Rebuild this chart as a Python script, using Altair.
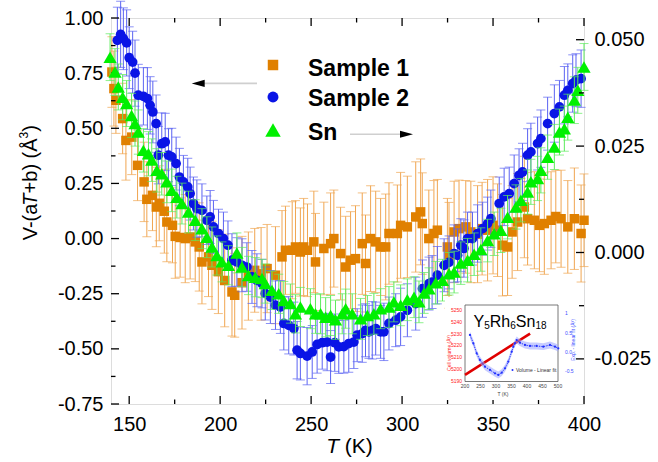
import altair as alt
import pandas as pd

# ---------------- data ----------------
# Sample 1 (orange squares), left axis
T1 = [140.5, 141.6, 142.7, 146.4, 148.2, 151.4, 154.6, 158.2, 159.7, 162.8,
      164.9, 166.5, 169.3, 170.7, 173.8, 175.3, 178.0, 180.8, 183.5, 186.3,
      188.5, 190.0, 193.6, 195.5, 199.0, 202.5, 206.5, 208.0, 212.0, 215.5,
      219.0, 222.5, 225.8, 230.4, 234.0, 235.9, 239.6, 241.4, 244.1, 245.9,
      248.0, 251.5, 252.4, 257.0, 260.7, 262.5, 266.2, 269.0, 271.7, 274.4,
      278.1, 279.9, 282.7, 285.5, 288.2, 291.0, 292.8, 297.4, 299.2, 302.9,
      307.5, 310.2, 311.1, 314.7, 317.5, 319.4, 324.9, 325.8, 328.6, 331.3,
      335.0, 337.8, 341.5, 344.0, 347.0, 350.0, 352.5, 355.2, 358.0, 360.5,
      363.5, 367.2, 369.0, 372.7, 375.5, 378.2, 381.9, 384.5, 387.4, 391.1,
      394.7, 398.4, 400.0]
V1 = [0.755, 0.680, 0.627, 0.544, 0.445, 0.460, 0.332, 0.257, 0.178, 0.196,
      0.143, 0.160, 0.124, 0.075, 0.060, 0.010, 0.005, 0.000, 0.007, -0.015,
      -0.038, -0.106, -0.083, -0.121, -0.150, -0.190, -0.242, -0.257, -0.200, -0.170,
      -0.144, -0.160, -0.136, -0.166, -0.083, -0.053, -0.053, -0.038, -0.061, -0.038,
      -0.053, -0.015, -0.106, -0.045, -0.023, 0.000, -0.068, -0.129, -0.098, -0.091,
      -0.023, -0.113, 0.000, -0.015, -0.038, -0.038, 0.023, 0.023, 0.060, 0.053,
      0.098, 0.121, 0.068, 0.000, 0.023, 0.038, -0.038, -0.076, 0.030, 0.045,
      0.053, 0.030, 0.020, 0.045, 0.038, 0.060, 0.038, -0.030, -0.038, 0.030,
      0.075, 0.143, 0.090, 0.083, 0.060, 0.068, 0.083, 0.100, 0.090, 0.053,
      0.090, 0.023, 0.083]
E1 = [0.16, 0.17, 0.15, 0.16, 0.18, 0.17, 0.16, 0.18, 0.17, 0.16,
      0.18, 0.17, 0.19, 0.18, 0.17, 0.19, 0.18, 0.20, 0.19, 0.18,
      0.20, 0.19, 0.18, 0.20, 0.19, 0.21, 0.20, 0.19, 0.21, 0.20,
      0.19, 0.21, 0.20, 0.22, 0.21, 0.20, 0.22, 0.21, 0.20, 0.22,
      0.21, 0.23, 0.22, 0.21, 0.23, 0.22, 0.21, 0.23, 0.22, 0.24,
      0.23, 0.22, 0.24, 0.23, 0.22, 0.24, 0.23, 0.22, 0.24, 0.23,
      0.25, 0.24, 0.23, 0.22, 0.24, 0.23, 0.22, 0.24, 0.23, 0.22,
      0.21, 0.23, 0.22, 0.21, 0.23, 0.22, 0.21, 0.23, 0.22, 0.21,
      0.22, 0.23, 0.21, 0.22, 0.21, 0.23, 0.22, 0.21, 0.22, 0.21,
      0.23, 0.22, 0.21]

# Sample 2 (blue circles), left axis
T2 = [143.5, 145.3, 146.8, 148.6, 150.0, 151.9, 153.2, 155.0, 157.8, 160.0,
      161.5, 163.0, 164.8, 166.0, 167.9, 169.8, 171.6, 173.4, 175.8, 177.6,
      179.8, 182.2, 183.5, 185.3, 187.2, 190.0, 192.7, 194.5, 196.3, 199.1,
      201.8, 204.3, 206.5, 209.2, 212.0, 214.7, 217.5, 220.2, 223.0, 224.8,
      227.6, 230.4, 233.1, 235.0, 237.7, 240.5, 242.3, 244.1, 247.8, 250.6,
      253.3, 256.1, 258.8, 260.7, 263.0, 265.2, 268.0, 270.7, 273.5, 275.3,
      278.1, 279.9, 281.8, 283.6, 285.5, 288.2, 290.0, 292.8, 296.5, 299.2,
      302.9, 307.5, 311.2, 314.8, 316.5, 319.4, 323.1, 325.8, 328.6, 330.5,
      332.3, 334.0, 336.0, 338.7, 341.5, 344.3, 347.0, 348.8, 353.4, 356.1,
      358.9, 361.6, 364.3, 366.2, 369.0, 370.8, 374.5, 376.3, 380.0, 383.7,
      386.5, 389.2, 391.1, 393.8, 395.6, 398.4]
V2 = [0.899, 0.926, 0.906, 0.887, 0.820, 0.800, 0.750, 0.650, 0.645, 0.635,
      0.604, 0.574, 0.521, 0.378, 0.430, 0.438, 0.378, 0.370, 0.340, 0.279,
      0.257, 0.234, 0.204, 0.159, 0.136, 0.128, 0.083, 0.098, 0.053, 0.023,
      0.000, -0.030, -0.098, -0.106, -0.121, -0.129, -0.174, -0.189, -0.204, -0.249,
      -0.265, -0.302, -0.310, -0.385, -0.393, -0.408, -0.506, -0.521, -0.533, -0.514,
      -0.480, -0.472, -0.469, -0.537, -0.472, -0.491, -0.490, -0.476, -0.469, -0.438,
      -0.431, -0.416, -0.423, -0.416, -0.408, -0.423, -0.423, -0.385, -0.370, -0.355,
      -0.325, -0.295, -0.227, -0.204, -0.197, -0.166, -0.121, -0.108, -0.068, -0.076,
      -0.030, -0.045, 0.000, 0.000, 0.023, 0.045, 0.068, 0.090, 0.159, 0.189,
      0.204, 0.249, 0.287, 0.302, 0.378, 0.393, 0.431, 0.453, 0.521, 0.567,
      0.597, 0.650, 0.672, 0.703, 0.718, 0.725]
E2 = [0.15, 0.15, 0.14, 0.15, 0.14, 0.14, 0.15, 0.14, 0.13, 0.14,
      0.13, 0.14, 0.13, 0.13, 0.14, 0.13, 0.12, 0.13, 0.12, 0.13,
      0.12, 0.13, 0.12, 0.12, 0.13, 0.12, 0.11, 0.12, 0.12, 0.11,
      0.12, 0.11, 0.12, 0.11, 0.12, 0.11, 0.12, 0.12, 0.11, 0.12,
      0.12, 0.11, 0.12, 0.12, 0.13, 0.12, 0.13, 0.12, 0.13, 0.12,
      0.13, 0.12, 0.13, 0.12, 0.13, 0.12, 0.12, 0.13, 0.12, 0.12,
      0.13, 0.12, 0.12, 0.13, 0.12, 0.12, 0.13, 0.12, 0.12, 0.13,
      0.12, 0.12, 0.13, 0.12, 0.12, 0.13, 0.12, 0.12, 0.13, 0.12,
      0.12, 0.13, 0.12, 0.12, 0.13, 0.12, 0.12, 0.13, 0.12, 0.13,
      0.12, 0.13, 0.12, 0.13, 0.12, 0.13, 0.12, 0.13, 0.12, 0.13,
      0.12, 0.13, 0.12, 0.13, 0.12, 0.13]

# Sn (green triangles), right axis
T3 = [139.5, 142.2, 144.0, 146.4, 148.6, 151.3, 153.2, 155.0, 157.8, 160.6,
      162.4, 165.2, 167.9, 170.7, 173.4, 176.2, 179.0, 182.6, 186.3, 190.0,
      192.7, 195.5, 198.2, 201.0, 204.6, 209.2, 212.0, 215.6, 219.3, 223.0,
      224.8, 228.5, 232.2, 235.0, 238.6, 241.4, 244.1, 249.6, 252.4, 255.2,
      258.0, 260.7, 263.4, 267.1, 269.0, 272.6, 277.2, 280.9, 284.5, 288.2,
      292.8, 295.5, 299.2, 302.9, 306.6, 309.3, 312.1, 314.8, 318.5, 322.2,
      325.8, 328.6, 332.3, 336.0, 339.6, 343.3, 347.0, 350.6, 354.3, 358.0,
      362.6, 365.3, 369.0, 370.8, 374.5, 376.3, 380.0, 383.7, 386.5, 389.2,
      391.1, 394.7, 396.6, 400.0]
V3 = [0.0459, 0.0424, 0.0389, 0.0365, 0.0350, 0.0322, 0.0303, 0.0283, 0.0240, 0.0232,
      0.0217, 0.0193, 0.0185, 0.0166, 0.0146, 0.0130, 0.0115, 0.0095, 0.0076, 0.0056,
      0.0036, 0.0013, -0.0007, -0.0022, -0.0030, -0.0001, -0.0034, -0.0054, -0.0058, -0.0061,
      -0.0073, -0.0089, -0.0097, -0.0113, -0.0120, -0.0144, -0.0128, -0.0132, -0.0144, -0.0144,
      -0.0152, -0.0148, -0.0158, -0.0144, -0.0132, -0.0144, -0.0156, -0.0148, -0.0144, -0.0132,
      -0.0128, -0.0116, -0.0124, -0.0111, -0.0105, -0.0116, -0.0095, -0.0085, -0.0071, -0.0065,
      -0.0050, -0.0046, -0.0025, -0.0018, -0.0004, 0.0007, 0.0028, 0.0044, 0.0052, 0.0083,
      0.0107, 0.0123, 0.0142, 0.0166, 0.0174, 0.0193, 0.0224, 0.0248, 0.0283, 0.0291,
      0.0318, 0.0358, 0.0381, 0.0436]
E3 = [0.0055, 0.0055, 0.0054, 0.0053, 0.0054, 0.0052, 0.0053, 0.0052, 0.0051, 0.0052,
      0.0050, 0.0051, 0.0050, 0.0049, 0.0050, 0.0049, 0.0048, 0.0049, 0.0048, 0.0047,
      0.0048, 0.0047, 0.0046, 0.0047, 0.0046, 0.0047, 0.0046, 0.0045, 0.0046, 0.0045,
      0.0046, 0.0045, 0.0046, 0.0045, 0.0046, 0.0045, 0.0046, 0.0047, 0.0046, 0.0047,
      0.0046, 0.0047, 0.0046, 0.0047, 0.0046, 0.0047, 0.0048, 0.0047, 0.0048, 0.0047,
      0.0048, 0.0047, 0.0048, 0.0049, 0.0048, 0.0049, 0.0048, 0.0049, 0.0050, 0.0049,
      0.0050, 0.0049, 0.0050, 0.0051, 0.0050, 0.0051, 0.0050, 0.0051, 0.0052, 0.0051,
      0.0052, 0.0051, 0.0052, 0.0053, 0.0052, 0.0053, 0.0052, 0.0053, 0.0054, 0.0053,
      0.0054, 0.0055, 0.0054, 0.0055]

# axis ticks
X_MAJOR = [150, 200, 250, 300, 350, 400]
X_MINOR = [175, 225, 275, 325, 375]
YL_MAJOR = [-0.75, -0.5, -0.25, 0.0, 0.25, 0.5, 0.75, 1.0]
YL_MINOR = [-0.625, -0.375, -0.125, 0.125, 0.375, 0.625, 0.875]
YR_MAJOR = [-0.025, 0.0, 0.025, 0.05]
YR_MINOR = [-0.0125, 0.0125, 0.0375]

LEGEND_LABELS = ["Sample 1", "Sample 2", "Sn"]

# inset (Y5Rh6Sn18 cell volume)
IN_FIT_T = [200, 410]
IN_FIT_V = [5195, 5230]
IN_RES_T = [216, 227, 237.7, 248, 264.5, 280.6, 296.8, 307.5, 318.4, 329, 339.7, 350.6,
            356, 361, 366.8, 377.4, 393.5, 409.7, 431, 452.7, 474.2, 490.3, 501]
IN_RES_V = [0.436, 0.219, -0.042, -0.217, -0.392, -0.478, -0.564, -0.608, -0.548, -0.433,
            -0.261, 0.0, 0.131, 0.219, 0.305, 0.235, 0.175, 0.149, 0.149, 0.131, 0.175,
            0.131, 0.089]
IN_X_TICKS = [200, 250, 300, 350, 400, 450, 500]
IN_YL_TICKS = [5190, 5200, 5210, 5220, 5230, 5240, 5250]
IN_YR_TICKS = [-0.5, 0.0, 0.5, 1.0]
IN_YR_LABELS = ["-0.5", "0.0", "0.5", "1"]

# ---------------- style ----------------
W, H = 473, 386
FONT = "Liberation Sans"
ORANGE, ORANGE_BAR = "#E08000", "#F0A550"
BLUE, BLUE_BAR = "#0A14E6", "#5A62F2"
GREEN, GREEN_BAR = "#00F000", "#5CEB5C"
MINUS_FIX = "replace(datum.label, '\u2212', '-')"

s1 = pd.DataFrame({"T": T1, "v": V1, "e": E1})
s2 = pd.DataFrame({"T": T2, "v": V2, "e": E2})
s3 = pd.DataFrame({"T": T3, "v": V3, "e": E3})
dummy = pd.DataFrame({"d": [0]})

X_SCALE = alt.Scale(domain=[140, 400], nice=False, zero=False)
X_AXIS = alt.Axis(orient="bottom", values=X_MAJOR, format="d", ticks=False, domain=False,
                  grid=False, labelFontSize=20, labelFont=FONT, labelColor="#000",
                  labelPadding=10, labelFlush=False, labelOverlap=False, title=None)
YL_SCALE = alt.Scale(domain=[-0.75, 1.0], nice=False, zero=False)
YL_AXIS = alt.Axis(orient="left", values=YL_MAJOR, format=".2f", labelExpr=MINUS_FIX,
                   ticks=False, domain=False, grid=False, labelFontSize=20, labelFont=FONT,
                   labelColor="#000", labelPadding=8, labelOverlap=False, title=None)
YR_SCALE = alt.Scale(domain=[-0.0356, 0.0551], nice=False, zero=False)
YR_AXIS = alt.Axis(orient="right", values=YR_MAJOR, format=".3f", labelExpr=MINUS_FIX,
                   ticks=False, domain=False, grid=False, labelFontSize=20, labelFont=FONT,
                   labelColor="#000", labelPadding=10, labelOverlap=False, title=None)


def xq(field="T:Q"):
    return alt.X(field, scale=X_SCALE, axis=X_AXIS)


def yl(field):
    return alt.Y(field, scale=YL_SCALE, axis=YL_AXIS)


def yr(field):
    return alt.Y(field, scale=YR_SCALE, axis=YR_AXIS)


def series(df, yfn, color, barcolor, shape, size):
    base = alt.Chart(df).transform_calculate(lo="datum.v - datum.e", hi="datum.v + datum.e")
    bars = base.mark_rule(color=barcolor, strokeWidth=1).encode(x=xq(), y=yfn("lo:Q"), y2="hi:Q")
    cap_lo = base.mark_tick(color=barcolor, orient="horizontal", size=9, thickness=1).encode(
        x=xq(), y=yfn("lo:Q"))
    cap_hi = base.mark_tick(color=barcolor, orient="horizontal", size=9, thickness=1).encode(
        x=xq(), y=yfn("hi:Q"))
    pts = base.mark_point(shape=shape, filled=True, size=size, color=color, opacity=1,
                          strokeWidth=0).encode(x=xq(), y=yfn("v:Q"))
    return [bars, cap_lo, cap_hi, pts]


def text(t, x, y, size, **kw):
    return alt.Chart(dummy).mark_text(text=t, font=FONT, fontSize=size, **kw).encode(
        x=alt.value(x), y=alt.value(y))


def point(x, y, shape, size, color):
    return alt.Chart(dummy).mark_point(shape=shape, filled=True, size=size, color=color,
                                       opacity=1, strokeWidth=0).encode(
        x=alt.value(x), y=alt.value(y))


def hline(x1, x2, y, color, width):
    return alt.Chart(dummy).mark_rule(color=color, strokeWidth=width).encode(
        x=alt.value(x1), x2=alt.value(x2), y=alt.value(y))


# frame ticks (inward)
def xticks(vals, length):
    d = pd.DataFrame({"T": vals})
    bottom = alt.Chart(d).mark_rule(color="#000", strokeWidth=1.3).encode(
        x=xq(), y=alt.value(H), y2=alt.value(H - length))
    top = alt.Chart(d).mark_rule(color="#000", strokeWidth=1.3).encode(
        x=xq(), y=alt.value(0), y2=alt.value(length))
    return [bottom, top]


def ylticks(vals, length):
    d = pd.DataFrame({"v": vals})
    return alt.Chart(d).mark_rule(color="#000", strokeWidth=1.3).encode(
        y=yl("v:Q"), x=alt.value(0), x2=alt.value(length))


def yrticks(vals, length):
    d = pd.DataFrame({"v": vals})
    return alt.Chart(d).mark_rule(color="#000", strokeWidth=1.3).encode(
        y=yr("v:Q"), x=alt.value(W - length), x2=alt.value(W))


left_layers = []
left_layers += series(s1, yl, ORANGE, ORANGE_BAR, "square", 90)
left_layers += series(s2, yl, BLUE, BLUE_BAR, "circle", 95)
left_layers += xticks(X_MAJOR, 8) + xticks(X_MINOR, 4.5)
left_layers += [ylticks(YL_MAJOR, 8), ylticks(YL_MINOR, 4.5)]

# legend
ARROW_L = "M-1,0L1,-0.55L1,0.55Z"
ARROW_R = "M1,0L-1,-0.55L-1,0.55Z"
left_layers += [
    point(162, 47, "square", 110, ORANGE),
    point(162, 79, "circle", 120, BLUE),
    point(162, 112, "triangle-up", 240, GREEN),
    text(LEGEND_LABELS[0], 197, 50.6, 23, fontWeight="bold", align="left", baseline="middle", color="#000"),
    text(LEGEND_LABELS[1], 197, 80.5, 23, fontWeight="bold", align="left", baseline="middle", color="#000"),
    text(LEGEND_LABELS[2], 197, 115, 23, fontWeight="bold", align="left", baseline="middle", color="#000"),
    hline(88, 146, 65.4, "#CFCFCF", 1.6),
    point(87.2, 65.4, ARROW_L, 169, "#000"),
    hline(239, 296, 116.2, "#CFCFCF", 1.6),
    point(295.5, 116.2, ARROW_R, 169, "#000"),
]

# axis titles, built from pieces so T can be italic and 3 a superscript
left_layers += [
    text("T", 215.2, 434.8, 21, fontStyle="italic", align="left", baseline="alphabetic", color="#000"),
    text("(K)", 233.8, 434.8, 21, align="left", baseline="alphabetic", color="#000"),
    text("V-(a", -74, 222.3, 20, angle=270, align="left", baseline="alphabetic", color="#000"),
    text("T", -74, 187.8, 20, angle=270, fontStyle="italic", align="left", baseline="alphabetic", color="#000"),
    text("+b) (Å", -74, 175.4, 20, angle=270, align="left", baseline="alphabetic", color="#000"),
    text("3", -83, 120.4, 12, angle=270, align="left", baseline="alphabetic", color="#000"),
    text(")", -74, 113.7, 20, angle=270, align="left", baseline="alphabetic", color="#000"),
]

left_group = alt.layer(*left_layers)

right_layers = series(s3, yr, GREEN, GREEN_BAR, "triangle-up", 175)
right_layers += [yrticks(YR_MAJOR, 8), yrticks(YR_MINOR, 5)]
right_group = alt.layer(*right_layers)

main = alt.layer(left_group, right_group).resolve_scale(y="independent")

# ---------------- inset ----------------
IX = alt.Scale(domain=[200, 500], range=[354, 447], nice=False, zero=False)
IYL = alt.Scale(domain=[5190, 5250], range=[362.7, 292], nice=False, zero=False)
IYR = alt.Scale(domain=[-0.75, 1.25], range=[362.4, 285.8], nice=False, zero=False)

fit_df = pd.DataFrame({"T": IN_FIT_T, "V": IN_FIT_V})
res_df = pd.DataFrame({"T": IN_RES_T, "R": IN_RES_V})

white = alt.Chart(dummy).mark_rect(color="#FFFFFF", opacity=1).encode(
    x=alt.value(334), x2=alt.value(456), y=alt.value(279), y2=alt.value(382))
frame = alt.Chart(dummy).mark_rect(fill=None, stroke="#555555", strokeWidth=0.8).encode(
    x=alt.value(354), x2=alt.value(447), y=alt.value(287), y2=alt.value(363.5))

red_line = alt.Chart(fit_df).mark_line(color="#E00000", strokeWidth=2.6).encode(
    x=alt.X("T:Q", scale=IX, axis=None), y=alt.Y("V:Q", scale=IYL, axis=None))
red_labels = alt.Chart(pd.DataFrame({"V": IN_YL_TICKS})).mark_text(
    font=FONT, fontSize=5, color="#FF2020", align="right", baseline="middle").encode(
    x=alt.value(351), y=alt.Y("V:Q", scale=IYL, axis=None), text=alt.Text("V:Q", format="d"))
x_labels = alt.Chart(pd.DataFrame({"T": IN_X_TICKS})).mark_text(
    font=FONT, fontSize=5, color="#444444", align="center", baseline="middle").encode(
    x=alt.X("T:Q", scale=IX, axis=None), y=alt.value(368), text=alt.Text("T:Q", format="d"))
red_group = alt.layer(red_line, red_labels, x_labels)

band = alt.Chart(res_df).transform_calculate(lo="datum.R - 0.09", hi="datum.R + 0.09").mark_area(
    color="#9AA4FF", opacity=0.55).encode(
    x=alt.X("T:Q", scale=IX, axis=None), y=alt.Y("lo:Q", scale=IYR, axis=None), y2="hi:Q")
res_line = alt.Chart(res_df).mark_line(color="#3040FF", strokeWidth=1, strokeDash=[1.5, 1]).encode(
    x=alt.X("T:Q", scale=IX, axis=None), y=alt.Y("R:Q", scale=IYR, axis=None))
res_pts = alt.Chart(res_df).mark_point(color="#2030FF", filled=True, size=5, opacity=1).encode(
    x=alt.X("T:Q", scale=IX, axis=None), y=alt.Y("R:Q", scale=IYR, axis=None))
blue_labels = alt.Chart(pd.DataFrame({"R": IN_YR_TICKS, "L": IN_YR_LABELS})).mark_text(
    font=FONT, fontSize=5, color="#4050FF", align="left", baseline="middle").encode(
    x=alt.value(454), y=alt.Y("R:Q", scale=IYR, axis=None), text="L:N")
blue_group = alt.layer(band, res_line, res_pts, blue_labels)

inset_texts = [
    text("Y", 362.5, 308.7, 16, align="left", baseline="alphabetic", color="#000"),
    text("5", 373.2, 311.2, 10, align="left", baseline="alphabetic", color="#000"),
    text("Rh", 378.8, 308.7, 16, align="left", baseline="alphabetic", color="#000"),
    text("6", 399.2, 311.2, 10, align="left", baseline="alphabetic", color="#000"),
    text("Sn", 404.8, 308.7, 16, align="left", baseline="alphabetic", color="#000"),
    text("18", 424.4, 311.2, 10, align="left", baseline="alphabetic", color="#000"),
    text("Cell volume (Å³)", 338, 335, 5, angle=270, align="center", baseline="middle", color="#FF2020"),
    text("Exp. - linear fit (Å³)", 462, 322, 5, angle=270, align="center", baseline="middle", color="#4050FF"),
    text("T (K)", 392, 375.5, 5, align="center", baseline="middle", color="#444444"),
    point(401.5, 352, "circle", 4, "#2030FF"),
    text("Volume - Linear fit", 405, 352, 5, align="left", baseline="middle", color="#333333"),
]

inset = alt.layer(white, frame, red_group, blue_group, *inset_texts).resolve_scale(y="independent")

chart = alt.layer(main, inset).resolve_scale(x="independent", y="independent").properties(
    width=W, height=H,
    padding={"left": 111, "top": 18, "right": 74, "bottom": 58},
    autosize=alt.AutoSizeParams(type="none"),
).configure_view(stroke="#222222", strokeWidth=1.5).configure(font=FONT)

chart.save("out.html", embed_options={"renderer": "svg", "actions": False})
